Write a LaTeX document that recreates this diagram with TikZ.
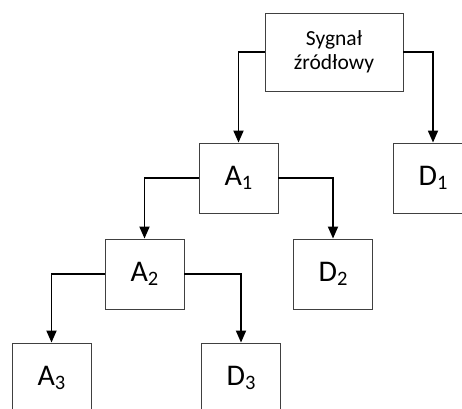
\documentclass[tikz,border=0pt]{standalone}
\usepackage{fontspec}
\setmainfont{Carlito}
\usetikzlibrary{arrows.meta}
\newcommand{\sbx}[1]{\raisebox{-3.3pt}{\fontsize{20.5}{20.5}\selectfont #1}}
\begin{document}
\begin{tikzpicture}[x=1pt,y=-1pt,
  box/.style={draw=black!75, line width=0.9pt, minimum width=79pt, minimum height=70pt, inner sep=0pt, fill=white},
  big/.style={font=\fontsize{30}{34}\selectfont},
  conn/.style={line width=1.8pt, -{Triangle[length=12pt,width=10pt]}}]
\useasboundingbox (0,0) rectangle (462,408);
\clip (0,0) rectangle (462,408);
\node[box, minimum width=138pt, minimum height=78pt, align=center, font=\fontsize{21.5}{24}\selectfont] (s) at (334,52) {Sygnał\\źródłowy};
\node[box, big] (a1) at (238.5,178) {A\sbx{1}};
\node[box, big] (d1) at (433,178) {D\sbx{1}};
\node[box, big] (a2) at (144.5,274) {A\sbx{2}};
\node[box, big] (d2) at (333,274) {D\sbx{2}};
\node[box, big] (a3) at (51.5,378) {A\sbx{3}};
\node[box, big] (d3) at (241,378) {D\sbx{3}};
\draw[conn] (s.west) -| (a1.north);
\draw[conn] (s.east) -| (d1.north);
\draw[conn] (a1.west) -| (a2.north);
\draw[conn] (a1.east) -| (d2.north);
\draw[conn] (a2.west) -| (a3.north);
\draw[conn] (a2.east) -| (d3.north);
\end{tikzpicture}
\end{document}
